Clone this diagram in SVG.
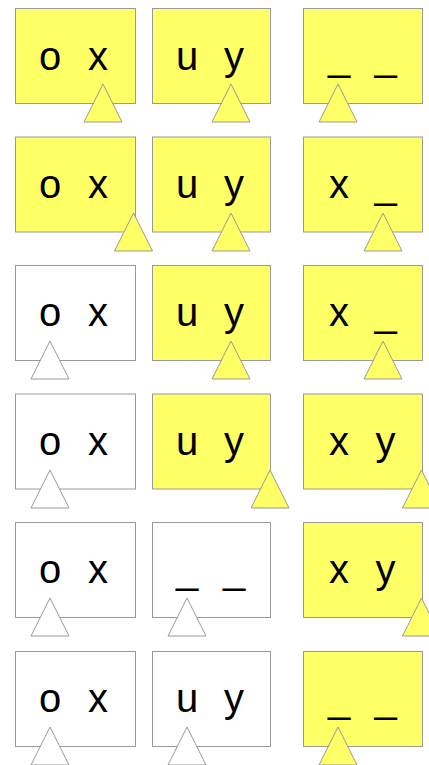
<svg xmlns="http://www.w3.org/2000/svg" width="429" height="765" viewBox="0 0 429 765">
<style>
.y{fill:#ffff66;stroke:#999999;stroke-width:1}
.w{fill:#ffffff;stroke:#999999;stroke-width:1}
text{font-family:"Liberation Sans",Arial,sans-serif;font-size:40px;fill:#000000;text-anchor:middle}
</style>
<defs>
<path id="tri" d="M0,0 L19,38 L-19,38 Z"/>
</defs>
<rect width="429" height="765" fill="#ffffff"/>
<!-- Row 1 -->
<g id="r1c1"><rect class="y" x="15.5" y="8.5" width="120" height="95"/><text x="50" y="70">o</text><text x="98" y="70">x</text><use href="#tri" class="y" x="103" y="84"/></g>
<g id="r1c2"><rect class="y" x="152.5" y="8.5" width="118" height="95"/><text x="187" y="70">u</text><text x="234" y="70">y</text><use href="#tri" class="y" x="231" y="84"/></g>
<g id="r1c3"><rect class="y" x="303.5" y="8.5" width="119" height="95"/><text x="339" y="70">_</text><text x="385.5" y="70">_</text><use href="#tri" class="y" x="338" y="84"/></g>
<!-- Row 2 -->
<g id="r2c1"><rect class="y" x="15.5" y="137" width="120" height="95"/><text x="50" y="198">o</text><text x="98" y="198">x</text><use href="#tri" class="y" x="133.5" y="213"/></g>
<g id="r2c2"><rect class="y" x="152.5" y="137" width="118" height="95"/><text x="187" y="198">u</text><text x="234" y="198">y</text><use href="#tri" class="y" x="231" y="213"/></g>
<g id="r2c3"><rect class="y" x="303.5" y="137" width="119" height="95"/><text x="339" y="198">x</text><text x="385.5" y="198">_</text><use href="#tri" class="y" x="383" y="213"/></g>
<!-- Row 3 -->
<g id="r3c1"><rect class="w" x="15.5" y="265.5" width="120" height="95"/><text x="50" y="326">o</text><text x="98" y="326">x</text><use href="#tri" class="w" x="50" y="341"/></g>
<g id="r3c2"><rect class="y" x="152.5" y="265.5" width="118" height="95"/><text x="187" y="326">u</text><text x="234" y="326">y</text><use href="#tri" class="y" x="231" y="341"/></g>
<g id="r3c3"><rect class="y" x="303.5" y="265.5" width="119" height="95"/><text x="339" y="326">x</text><text x="385.5" y="326">_</text><use href="#tri" class="y" x="383" y="341"/></g>
<!-- Row 4 -->
<g id="r4c1"><rect class="w" x="15.5" y="394" width="120" height="95"/><text x="50" y="455">o</text><text x="98" y="455">x</text><use href="#tri" class="w" x="50" y="470"/></g>
<g id="r4c2"><rect class="y" x="152.5" y="394" width="118" height="95"/><text x="187" y="455">u</text><text x="234" y="455">y</text><use href="#tri" class="y" x="270" y="470"/></g>
<g id="r4c3"><rect class="y" x="303.5" y="394" width="119" height="95"/><text x="339" y="455">x</text><text x="385.5" y="455">y</text><use href="#tri" class="y" x="421.5" y="470"/></g>
<!-- Row 5 -->
<g id="r5c1"><rect class="w" x="15.5" y="522.5" width="120" height="95"/><text x="50" y="583">o</text><text x="98" y="583">x</text><use href="#tri" class="w" x="50" y="598"/></g>
<g id="r5c2"><rect class="w" x="152.5" y="522.5" width="118" height="95"/><text x="187" y="583">_</text><text x="234" y="583">_</text><use href="#tri" class="w" x="187" y="598"/></g>
<g id="r5c3"><rect class="y" x="303.5" y="522.5" width="119" height="95"/><text x="339" y="583">x</text><text x="385.5" y="583">y</text><use href="#tri" class="y" x="421.5" y="598"/></g>
<!-- Row 6 -->
<g id="r6c1"><rect class="w" x="15.5" y="651.5" width="120" height="95"/><text x="50" y="712">o</text><text x="98" y="712">x</text><use href="#tri" class="w" x="50" y="727"/></g>
<g id="r6c2"><rect class="w" x="152.5" y="651.5" width="118" height="95"/><text x="187" y="712">u</text><text x="234" y="712">y</text><use href="#tri" class="w" x="187" y="727"/></g>
<g id="r6c3"><rect class="y" x="303.5" y="651.5" width="119" height="95"/><text x="339" y="712">_</text><text x="385.5" y="712">_</text><use href="#tri" class="y" x="338" y="727"/></g>
<g id="connectors"></g>
</svg>
